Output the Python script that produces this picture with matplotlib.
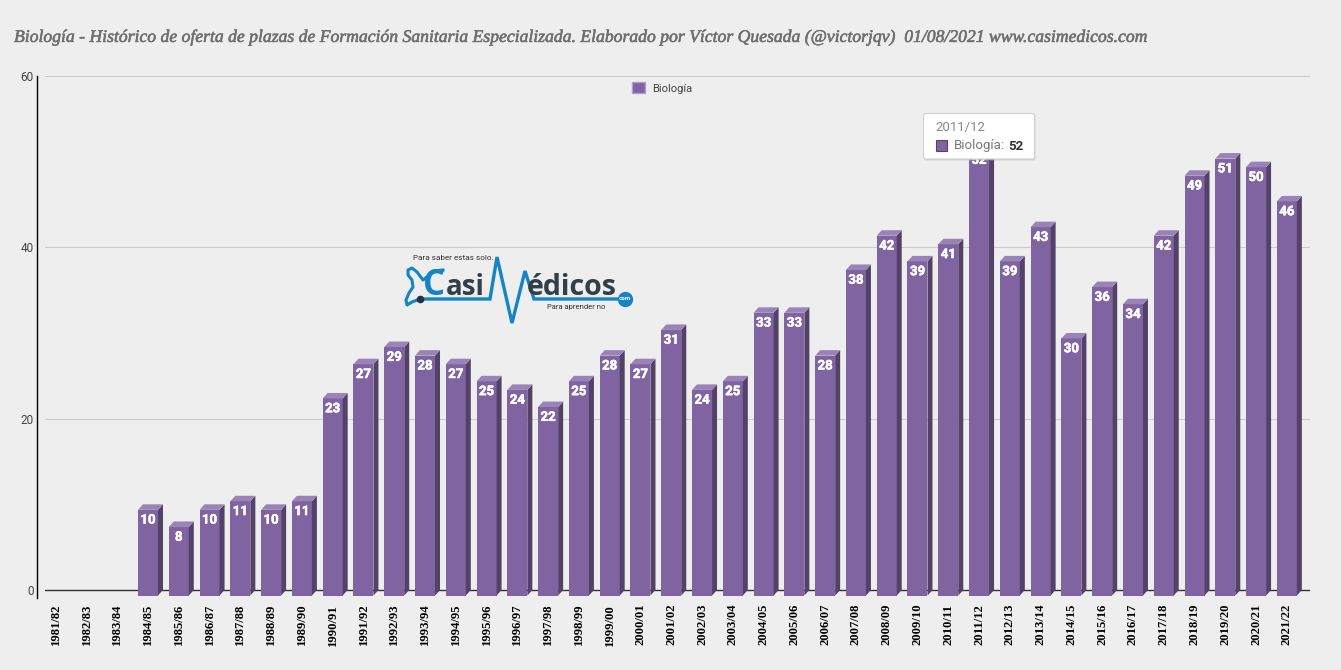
import matplotlib
matplotlib.use('Agg')
import matplotlib.pyplot as plt
import matplotlib.patheffects as pe
from matplotlib.patches import Patch, Polygon, Rectangle, FancyBboxPatch

# data
courses = ['1981/82', '1982/83', '1983/84', '1984/85', '1985/86', '1986/87', '1987/88',
           '1988/89', '1989/90', '1990/91', '1991/92', '1992/93', '1993/94', '1994/95',
           '1995/96', '1996/97', '1997/98', '1998/99', '1999/00', '2000/01', '2001/02',
           '2002/03', '2003/04', '2004/05', '2005/06', '2006/07', '2007/08', '2008/09',
           '2009/10', '2010/11', '2011/12', '2012/13', '2013/14', '2014/15', '2015/16',
           '2016/17', '2017/18', '2018/19', '2019/20', '2020/21', '2021/22']
plazas = [0, 0, 0, 10, 8, 10, 11, 10, 11, 23, 27, 29, 28, 27, 25, 24, 22, 25, 28, 27, 31,
          24, 25, 33, 33, 28, 38, 42, 39, 41, 52, 39, 43, 30, 36, 34, 42, 49, 51, 50, 46]
y_ticks = [0, 20, 40, 60]

TITLE = ('Biología - Histórico de oferta de plazas de Formación Sanitaria Especializada. '
         'Elaborado por Víctor Quesada (@victorjqv)  01/08/2021 www.casimedicos.com')

BG = '#eeeeee'
FRONT = '#8064a2'
SIDE = '#544168'
TOP = '#9a83b6'
BLUE = '#1583c6'
DARK = '#333f48'
W, H = 1341, 670

fig = plt.figure(figsize=(W / 100, H / 100), dpi=100, facecolor=BG)

# plot area in pixels: x 45-1310, value 60 at y=76, value 0 at y=590
px_per_val = (590 - 76) / 60
y_bottom = -1
ax = fig.add_axes([45 / W, 1 - (590 - y_bottom * px_per_val) / H, 1265 / W,
                   (590 - y_bottom * px_per_val - 76) / H])
ax.set_facecolor(BG)
step = 30.78
x_left = 3 - (148 - 45) / step
ax.set_xlim(x_left, x_left + 1265 / step)
ax.set_ylim(y_bottom, 60)

for s in ['top', 'right', 'bottom']:
    ax.spines[s].set_visible(False)
ax.spines['left'].set_position(('outward', 5.8))
ax.spines['left'].set_bounds(-0.95, 60)
ax.spines['left'].set_color('black')
ax.spines['left'].set_linewidth(1)

ax.set_yticks(y_ticks)
ax.set_yticklabels([str(v) for v in y_ticks], fontsize=8.5, color='#444444', family='Roboto')
ax.tick_params(axis='y', length=0, pad=2.5)
for v in y_ticks[1:]:
    ax.axhline(v, color='#cccccc', lw=0.8, zorder=1)
ax.axhline(0, color='#333333', lw=1, zorder=1)

ax.set_xticks(range(len(courses)))
ax.set_xticklabels(courses, rotation=90, fontsize=9.1, fontweight='bold',
                   family='Liberation Serif', color='black')
ax.tick_params(axis='x', length=0, pad=3.8)

# fake 3d bars, depth given in data units
bar_w = 20 / step
dx = 5 / step
dy = 5.5 / px_per_val
for i, v in enumerate(plazas):
    if v == 0:
        continue
    l, r = i - bar_w / 2, i + bar_w / 2
    ax.bar(i, v, width=bar_w, bottom=-dy, color=FRONT, zorder=3, linewidth=0)
    ax.add_patch(Polygon([(r, -dy), (r + dx, 0), (r + dx, v), (r, v - dy)], color=SIDE, lw=0, zorder=3.2))
    ax.add_patch(Polygon([(l, v - dy), (l + dx, v), (r + dx, v), (r, v - dy)], color=TOP, lw=0, zorder=3.2))
    lab = ax.annotate(str(v), (i, v - dy), xytext=(0, -7.4), textcoords='offset points',
                      ha='center', va='center', color='white', fontsize=9.5, fontweight='bold',
                      family='Roboto', zorder=4)
    lab.set_path_effects([pe.withStroke(linewidth=0.4, foreground='white')])

leg = ax.legend(handles=[Patch(facecolor=FRONT, edgecolor='#b39fcb', label='Biología')],
                loc='center left', bbox_to_anchor=(632 / W, 1 - 88 / H),
                bbox_transform=fig.transFigure, frameon=False, handlelength=1.17, handleheight=1.1,
                handletextpad=0.63, prop={'family': 'Roboto', 'size': 8}, borderpad=0, borderaxespad=0)
leg.get_texts()[0].set_color('#444444')

# overlay in image pixels for title, logo and tooltip
ov = fig.add_axes([0, 0, 1, 1], zorder=10)
ov.set_xlim(0, W)
ov.set_ylim(H, 0)
ov.axis('off')

title = ov.text(14, 37, TITLE, family='Liberation Serif', style='italic', fontsize=12.7,
                color='#6f6f6f', ha='left', va='center')
title.set_path_effects([pe.withStroke(linewidth=0.4, foreground='#6f6f6f')])

# logo
ov.plot([420, 490, 497, 512, 525, 534, 620], [299, 299, 257, 323, 271, 299, 299], color=BLUE, lw=2.4,
        solid_joinstyle='miter')
ov.plot([420, 412, 407, 406, 409, 413, 412, 408, 408, 412, 417, 423, 428, 433, 443],
        [299, 302, 305, 300, 293, 287, 280, 275, 270, 268, 272, 280, 276, 271, 270], color=BLUE, lw=2.2,
        solid_joinstyle='round')
ov.plot([420], [299], 'o', color='#223344', ms=4.5)
ov.text(423, 295, 'C', family='Open Sans', fontweight='bold', fontsize=25, color=BLUE, ha='left', va='baseline')
ov.text(446, 295, 'asi', family='Open Sans', fontweight='bold', fontsize=20, color=DARK, ha='left', va='baseline')
ov.text(527, 295, 'édicos', family='Open Sans', fontweight='bold', fontsize=20.5, color=DARK, ha='left', va='baseline')
ov.text(413, 258, 'Para saber estas solo.', family='Roboto', fontsize=5.9, color='#333333', ha='left', va='center')
ov.text(547, 307, 'Para aprender no', family='Roboto', fontsize=5.5, color='#333333', ha='left', va='center')
ov.plot([625], [299], 'o', color=BLUE, ms=11, mew=0)
ov.text(625, 299, 'com', family='Roboto', fontweight='bold', fontsize=4.5, color='white', ha='center', va='center')

# tooltip
ov.add_patch(FancyBboxPatch((924.5, 114.5), 111, 46, boxstyle='round,pad=0,rounding_size=2', fc='#bbbbbb', ec='none', alpha=0.5))
ov.add_patch(FancyBboxPatch((923.5, 113.5), 111, 45.5, boxstyle='round,pad=0,rounding_size=2', fc='white', ec='#d0d0d0', lw=0.8))
ov.text(935, 128, courses[30], family='Roboto', fontsize=9.5, color='#888888', ha='left', va='center')
ov.add_patch(Rectangle((936.5, 139.5), 11, 11, fc=FRONT, ec=SIDE, lw=0.8))
ov.text(954, 146, 'Biología:', family='Roboto', fontsize=9.5, color='#777777', ha='left', va='center')
ov.text(1008, 146, str(plazas[30]), family='Roboto', fontsize=9.5, fontweight='bold', color='#333333', ha='left', va='center')

fig.savefig('out.png', dpi=100, facecolor=BG)
